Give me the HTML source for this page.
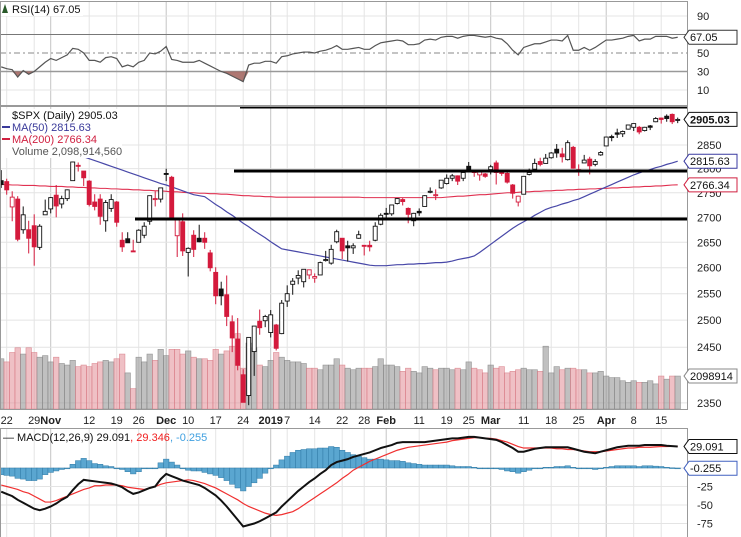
<!DOCTYPE html>
<html><head><meta charset="utf-8"><style>
html,body{margin:0;padding:0;background:#fff;}
svg{display:block;font-family:"Liberation Sans",Arial,sans-serif;}
</style></head><body>
<svg id="chart" width="741" height="537" viewBox="0 0 741 537" xmlns="http://www.w3.org/2000/svg">
<rect x="0" y="0" width="741" height="537" fill="#fff"/>
<g id="grid"></g>
<g id="rsi"></g>
<g id="price"></g>
<g id="macd"></g>
<g id="axes"></g>
</svg>
<script>
const dateTickIdx=[1,6,9,16,21,25,30,34,39,44,49,52,57,62,66,70,76,81,85,89,95,100,105,110,115,120];
const dateTickLabels=["22","29","Nov","12","19","26","Dec","10","17","24","2019","7","14","22","28","Feb","11","19","25","Mar","11","18","25","Apr","8","15"];
const priceTicks=[2350,2450,2500,2550,2600,2650,2700,2750,2800,2850];
const rsiTicks=[10,30,50,90];
const macdTicks=[-25,-50,-75];
const openP=[2775,2773,2721,2737,2675,2675,2683,2640,2705,2717,2745,2727,2738,2775,2807,2795,2774,2731,2737,2693,2718,2731,2654,2657,2633,2650,2664,2692,2736,2737,2790,2782,2663,2691,2630,2664,2658,2658,2629,2591,2559,2548,2497,2465,2400,2363,2442,2498,2499,2477,2491,2475,2536,2568,2580,2573,2586,2580,2586,2614,2609,2651,2658,2643,2639,2658,2644,2644,2654,2686,2708,2707,2728,2736,2718,2693,2712,2722,2751,2744,2760,2769,2780,2785,2780,2805,2793,2787,2789,2798,2812,2794,2790,2766,2731,2747,2788,2799,2815,2811,2823,2841,2831,2819,2845,2796,2812,2820,2809,2829,2848,2868,2876,2874,2884,2888,2888,2881,2891,2900,2908,2912,2916,2904];
const highP=[2797,2779,2753,2743,2722,2693,2706,2686,2736,2741,2766,2744,2757,2815,2813,2795,2776,2747,2747,2735,2747,2733,2670,2670,2655,2676,2690,2744,2753,2760,2800,2785,2697,2708,2640,2674,2685,2670,2635,2601,2573,2585,2509,2504,2410,2468,2489,2520,2510,2519,2493,2538,2566,2580,2595,2597,2596,2589,2612,2633,2645,2675,2658,2653,2648,2673,2644,2653,2690,2708,2719,2725,2739,2739,2720,2709,2718,2745,2761,2757,2776,2788,2789,2786,2792,2814,2796,2795,2791,2808,2817,2796,2792,2768,2744,2784,2800,2821,2823,2831,2835,2852,2844,2860,2848,2809,2829,2825,2820,2837,2868,2872,2885,2881,2893,2896,2891,2889,2893,2910,2909,2916,2918,2909];
const lowP=[2760,2746,2692,2652,2667,2628,2604,2635,2705,2708,2700,2718,2733,2775,2794,2764,2722,2714,2685,2671,2711,2681,2631,2649,2631,2650,2658,2685,2722,2730,2774,2697,2621,2623,2583,2621,2650,2637,2593,2530,2528,2489,2441,2408,2351,2346,2398,2473,2487,2468,2444,2474,2525,2548,2568,2562,2578,2571,2586,2612,2606,2648,2617,2612,2627,2657,2624,2632,2652,2684,2696,2703,2726,2724,2688,2682,2703,2722,2749,2735,2758,2767,2774,2766,2774,2794,2783,2775,2781,2788,2767,2785,2769,2738,2722,2747,2786,2799,2805,2811,2821,2823,2813,2817,2800,2785,2812,2788,2805,2827,2848,2858,2865,2867,2883,2880,2873,2879,2882,2899,2896,2900,2895,2897];
const closeP=[2767,2756,2741,2656,2705,2658,2641,2682,2712,2740,2723,2738,2756,2814,2806,2781,2726,2722,2702,2730,2736,2690,2641,2649,2633,2674,2682,2744,2738,2760,2790,2700,2696,2633,2638,2636,2651,2650,2600,2546,2546,2507,2467,2417,2351,2468,2489,2486,2507,2510,2448,2532,2550,2574,2585,2597,2596,2583,2610,2616,2636,2671,2633,2639,2643,2665,2644,2641,2682,2704,2707,2725,2738,2732,2706,2708,2709,2744,2753,2746,2776,2780,2785,2774,2792,2796,2794,2793,2784,2804,2792,2790,2772,2749,2743,2784,2792,2811,2809,2822,2833,2833,2825,2855,2801,2798,2818,2806,2815,2834,2867,2867,2873,2879,2893,2896,2878,2888,2888,2907,2905,2907,2900,2905.03];
const volume=[3.2,3.0,3.6,3.9,3.5,3.9,3.6,3.3,3.4,3.0, 3.3,2.9,2.8,3.1,2.7,2.8,2.7,2.9,3.0,3.1, 3.0,3.2,3.5,2.3,1.3,3.3,3.0,3.5,3.1,3.8, 3.4,3.8,3.8,3.5,3.7,3.3,3.2,3.2,3.1,3.8, 3.5,3.7,4.0,4.8,2.6,4.2,3.9,2.8,2.7,3.1, 3.6,3.3,3.1,3.0,3.0,2.9,2.6,2.6,2.5,2.8, 2.8,3.2,2.8,2.6,2.5,2.6,2.6,2.6,2.7,3.2, 2.8,2.8,2.7,2.4,2.6,2.4,2.3,2.7,2.6,2.5, 2.6,2.6,2.5,2.6,2.5,3.0,2.6,2.5,2.3,2.8, 2.6,2.7,2.3,2.4,2.5,2.6,2.5,2.5,2.4,4.0, 2.3,2.7,2.5,2.6,2.6,2.5,2.5,2.3,2.3,2.4, 2.1,2.0,2.0,1.8,1.7,1.8,1.7,1.7,1.8,1.6, 2.1,1.9,2.1,2.1];
const ma50=[2885,2881,2877,2873,2869,2865,2861,2857,2853,2849,2845,2841,2837,2833,2829, 2825,2821,2817,2813,2809,2805,2801,2797,2793,2789,2785,2781,2777,2773,2769,2766,2762,2758,2754,2750,2746,2744, 2742,2734,2726,2719,2711,2704,2696, 2688,2681,2673,2666,2659,2651,2644,2637, 2635,2633,2631,2629,2627,2625,2623,2621,2619, 2617,2615,2613,2611,2609,2607,2605, 2604,2604,2604,2605, 2606,2606,2607,2607,2608,2608,2609,2610,2610,2611, 2613,2616,2618,2620,2623, 2630,2638,2646,2654,2662,2670,2678,2685, 2691,2697,2704,2710,2716, 2720,2723,2727,2730,2734,2737, 2742,2747,2752,2757,2762,2767,2772,2777,2782,2787,2791, 2795,2798,2802,2805,2809,2812,2815.63];
const ma200=[2767,2767,2766,2766,2765,2765,2765,2764,2764,2763,2763,2763,2762,2762,2761,2761,2760,2760, 2759,2759,2758,2758,2757,2757,2756,2756,2755,2755,2754,2754,2753,2752,2752,2751,2750, 2750,2749,2749,2748,2748,2747,2747,2746,2745,2744,2744,2743,2743,2742,2742,2741, 2741,2741,2741,2741,2741,2741,2741,2741,2741,2741,2741,2741,2741,2741,2741,2740,2740,2740,2740,2740,2740,2740,2740,2740,2740,2740,2740,2740,2740,2740, 2741,2742,2743,2743,2744,2745,2746,2746,2747,2748,2749,2750,2750,2751, 2752,2752,2753,2753,2754,2754,2755,2755,2756,2756,2757,2757,2758,2758,2759,2759,2760,2760,2761,2761,2762,2762,2763,2763,2764,2764,2765,2766,2766.34];
const rsiVals=[35,33,32,24,31,27,30,35,40,44, 42,45,48,55,54,50,42,42,40,45, 46,44,35,37,35,40,42,50,49,52, 57,43,42,40,40,40,42,39,36,33, 30,28,25,22,19,37,39,39,41,41, 39,46,47,49,50,51,51,50,52,53, 55,58,54,54,55,56,54,54,58,61, 62,63,64,63,59,59,60,64,65,64, 67,68,68,66,68,69,69,68,67,68, 66,65,60,53,48,56,58,60,60,62, 64,64,63,69,53,53,56,53,56,60, 64,64,65,66,68,69,63,65,65,68, 68,68,66,67.05];
const macdVals=[-32,-35,-38,-43,-47,-51,-55,-57,-55,-52, -48,-43,-39,-30,-22,-16,-17,-18,-19,-20, -21,-23,-26,-31,-35,-33,-30,-27,-25,-15, -8,-11,-14,-17,-19,-21,-23,-27,-32,-37, -44,-52,-61,-70,-79,-77,-75,-72,-68,-64, -60,-52,-45,-38,-31,-25,-19,-14,-8,-3, 4,8,10,12,15,17,19,21,24,27, 29,31,34,35,35,35,35,35,36,37, 38,39,40,40,41,42,42,41,40,39, 38,35,31,27,22,22,24,26,27,28, 28,28,28,28,26,24,22,21,20,22, 24,26,28,29,30,30,30,31,31,31, 31,30,29.5,29.091];
const signalVals=[-23,-25,-27,-29,-32,-34,-38,-42,-46,-46, -44,-41,-38,-35,-32,-29,-27,-24,-24,-23, -23,-23,-24,-26,-27,-28,-29,-27,-25,-22, -20,-19,-18,-17,-16,-17,-19,-21,-24,-27, -31,-35,-39,-43,-48,-52,-55,-58,-61,-63, -64,-63,-61,-59,-55,-50,-45,-40,-35,-30, -25,-20,-14,-9,-3,1,5,9,12,15, 18,21,24,26,28,29,30,31,32,33, 34,35,37,38,39,40,41,41,40,40, 39,37,35,32,29,27,27,27,27,27, 27,26,26,25,25,24,23,22,22,22, 23,24,25,26,27,27,28,28,28,28.5, 29,29,29.2,29.346];

const NS="http://www.w3.org/2000/svg";
const PR=687;
function xOf(i){return 1.2+i*5.5;}
function pY(v){return 145-1337*Math.log(v/2850);}
function rY(v){return 53-(v-50)*0.925;}
function mY(v){return 468-v*0.74;}
function vH(v){return v*15.7;}
function mk(parent,tag,attrs){const e=document.createElementNS(NS,tag);for(const k in attrs)e.setAttribute(k,attrs[k]);parent.appendChild(e);return e;}
const grid=document.getElementById('grid'),rsiG=document.getElementById('rsi'),priceG=document.getElementById('price'),macdG=document.getElementById('macd'),axes=document.getElementById('axes');

dateTickIdx.forEach((idx,k)=>{
  const isMonth=/[A-Za-z]/.test(dateTickLabels[k])||dateTickLabels[k]==="2019";
  const x=xOf(idx);
  [[1,105],[106,409],[428,537]].forEach(r=>{
    const l=mk(grid,'line',{x1:x,x2:x,y1:r[0],y2:r[1],stroke:isMonth?'#c4c4c4':'#e4e4e4','stroke-width':1});
    
    
  });
  const t=mk(axes,'text',{x:x,y:424,'font-size':11,'text-anchor':'middle',fill:'#222','font-weight':isMonth?'bold':'normal'});
  t.textContent=dateTickLabels[k];
  
  
});

rsiTicks.forEach(v=>{
  const y=rY(v);
  const l=mk(rsiG,'line',{x1:0,x2:PR,y1:y,y2:y,stroke:v===50?'#888':(v===30?'#999':'#e4e4e4'),'stroke-width':v===30?1.5:1,'stroke-dasharray':v===50?'6,3,2,3':'none'});
  
  
  const t=mk(axes,'text',{x:697,y:y+4,'font-size':11,fill:'#222'});t.textContent=String(v);
  
  
});
const l70=mk(rsiG,'line',{x1:0,x2:PR,y1:rY(70),y2:rY(70),stroke:'#777','stroke-width':1});


let fillPts=[];
for(let i=0;i<rsiVals.length;i++){ if(rsiVals[i]<30) fillPts.push(i); }
if(fillPts.length){
  let a=fillPts[0]-1,b=fillPts[fillPts.length-1]+1;
  let d=`M${xOf(a)},${rY(30)}`;
  for(let i=a+1;i<b;i++) d+=` L${xOf(i)},${rY(Math.min(30,rsiVals[i]))}`;
  d+=` L${xOf(b)},${rY(30)} Z`;
  const f=mk(rsiG,'path',{d:d,fill:'#a0605a',stroke:'none',opacity:0.85});
  
  
}
const rsiLine=mk(rsiG,'polyline',{points:rsiVals.map((v,i)=>xOf(i)+','+rY(v)).join(' '),fill:'none',stroke:'#555','stroke-width':1.2});


const rsiBg=mk(rsiG,'rect',{x:1,y:2,width:82,height:14,fill:'#fff'});


const rsiLeg=mk(rsiG,'text',{x:12,y:13,'font-size':11,fill:'#111'});rsiLeg.textContent='RSI(14) 67.05';


const rsiIcon=mk(rsiG,'path',{d:'M2,13 L5,4 L8,13 Z',fill:'#2a5a2a'});



const clip=mk(document.getElementById('chart'),'clipPath',{id:'pclip'});
mk(clip,'rect',{x:0,y:106,width:PR,height:303});
const pInner=mk(priceG,'g',{'clip-path':'url(#pclip)'});


priceTicks.forEach(v=>{
  const y=pY(v);
  const l=mk(pInner,'line',{x1:0,x2:PR,y1:y,y2:y,stroke:'#e4e4e4','stroke-width':1});
  
  
  const t=mk(axes,'text',{x:697,y:y+4,'font-size':11,fill:'#222'});t.textContent=String(v);
  
  
});
volume.forEach((v,i)=>{
  const down=i>0&&closeP[i]<closeP[i-1];
  const h=vH(v);
  const r=mk(pInner,'rect',{x:xOf(i)-2.75,y:409-h,width:5.5,height:h,fill:down?'rgba(226,140,150,0.55)':'rgba(150,150,150,0.6)',stroke:down?'rgba(215,120,130,0.8)':'rgba(130,130,130,0.8)','stroke-width':0.6});
  
  
});
const ma200L=mk(pInner,'polyline',{points:ma200.map((v,i)=>xOf(i)+','+pY(v)).join(' '),fill:'none',stroke:'#e03050','stroke-width':1.1});


const ma50L=mk(pInner,'polyline',{points:ma50.map((v,i)=>xOf(i)+','+pY(v)).join(' '),fill:'none',stroke:'#4848a8','stroke-width':1.2});


closeP.forEach((c,i)=>{
  const o=openP[i],h=highP[i],lo=lowP[i];
  const down=i>0&&c<closeP[i-1];
  const col=down?'#d41a3c':'#111';
  const x=xOf(i);
  const g=mk(pInner,'g',{});
  
  
  mk(g,'line',{x1:x,x2:x,y1:pY(h),y2:pY(lo),stroke:col,'stroke-width':1});
  const top=pY(Math.max(o,c)),bot=pY(Math.min(o,c));
  mk(g,'rect',{x:x-2,y:top,width:4,height:Math.max(1,bot-top),fill:c>o?'#fff':col,stroke:col,'stroke-width':0.9});
});
[[240,107],[234,171],[135,219]].forEach(p=>{
  const l=mk(priceG,'line',{x1:p[0],x2:PR,y1:p[1],y2:p[1],stroke:'#000','stroke-width':3});
  
  
});
const legBg=mk(priceG,'rect',{x:1,y:109,width:121,height:49,fill:'#fff'});


const legItems=[['$SPX (Daily) 2905.03','#111',119],['MA(50) 2815.63','#3a3a9a',131],['MA(200) 2766.34','#d02040',143],['Volume 2,098,914,560','#555',155]];
legItems.forEach((it,k)=>{
  const t=mk(priceG,'text',{x:12,y:it[2],'font-size':11,fill:it[1]});t.textContent=it[0];
  
  
  if(k===1||k===2){const l=mk(priceG,'line',{x1:2,x2:10,y1:it[2]-4,y2:it[2]-4,stroke:it[1],'stroke-width':2});
    
    }
});

[0].concat(macdTicks).forEach(v=>{
  const y=mY(v);
  const l=mk(macdG,'line',{x1:0,x2:PR,y1:y,y2:y,stroke:'#e4e4e4','stroke-width':1});
  
  
  if(v!==0){const t=mk(axes,'text',{x:697,y:y+4,'font-size':11,fill:'#222'});t.textContent=String(v);
  
  }
});
macdVals.forEach((m,i)=>{
  const hv=m-signalVals[i];
  const y0=mY(0),y1=mY(hv);
  const r=mk(macdG,'rect',{x:xOf(i)-2.75,y:Math.min(y0,y1),width:5.5,height:Math.max(0.8,Math.abs(y1-y0)),fill:'#5aa6d0',stroke:'#2f7aa6','stroke-width':0.5});
  
  
});
const sigL=mk(macdG,'polyline',{points:signalVals.map((v,i)=>xOf(i)+','+mY(v)).join(' '),fill:'none',stroke:'#f03030','stroke-width':1.2});


const macL=mk(macdG,'polyline',{points:macdVals.map((v,i)=>xOf(i)+','+mY(v)).join(' '),fill:'none',stroke:'#111','stroke-width':2});


const mLeg=mk(macdG,'text',{x:3,y:441,'font-size':11});


[['— MACD(12,26,9) 29.091','#111'],[', 29.346','#f02020'],[', -0.255','#40a0e0']].forEach(s=>{const ts=mk(mLeg,'tspan',{fill:s[1]});ts.textContent=s[0];});

[[0,1,PR,104],[0,106,PR,303],[0,428,PR,109]].forEach(r=>{
  const b=mk(axes,'rect',{x:r[0]+0.5,y:r[1]+0.5,width:r[2],height:r[3],fill:'none',stroke:'#999','stroke-width':1});
  
  
});

function tag(y,txt,border,bold){
  const g=mk(axes,'g',{});
  
  
  mk(g,'path',{d:`M684,${y} L689,${y-7} L737,${y-7} L737,${y+7} L689,${y+7} Z`,fill:'#fff',stroke:border,'stroke-width':1});
  const t=mk(g,'text',{x:690,y:y+4,'font-size':11,fill:'#111','font-weight':bold?'bold':'normal'});t.textContent=txt;
}
tag(rY(67.05),'67.05','#333',false);
tag(pY(2905.03),'2905.03','#111',true);
tag(pY(2815.63),'2815.63','#3a3aa0',false);
tag(pY(2766.34),'2766.34','#d02040',false);
tag(409-vH(2.1),'2098914','#888',false);
tag(mY(29.091),'29.091','#111',false);
tag(mY(-0.255),'-0.255','#4060c0',false);
</script>
</body></html>
